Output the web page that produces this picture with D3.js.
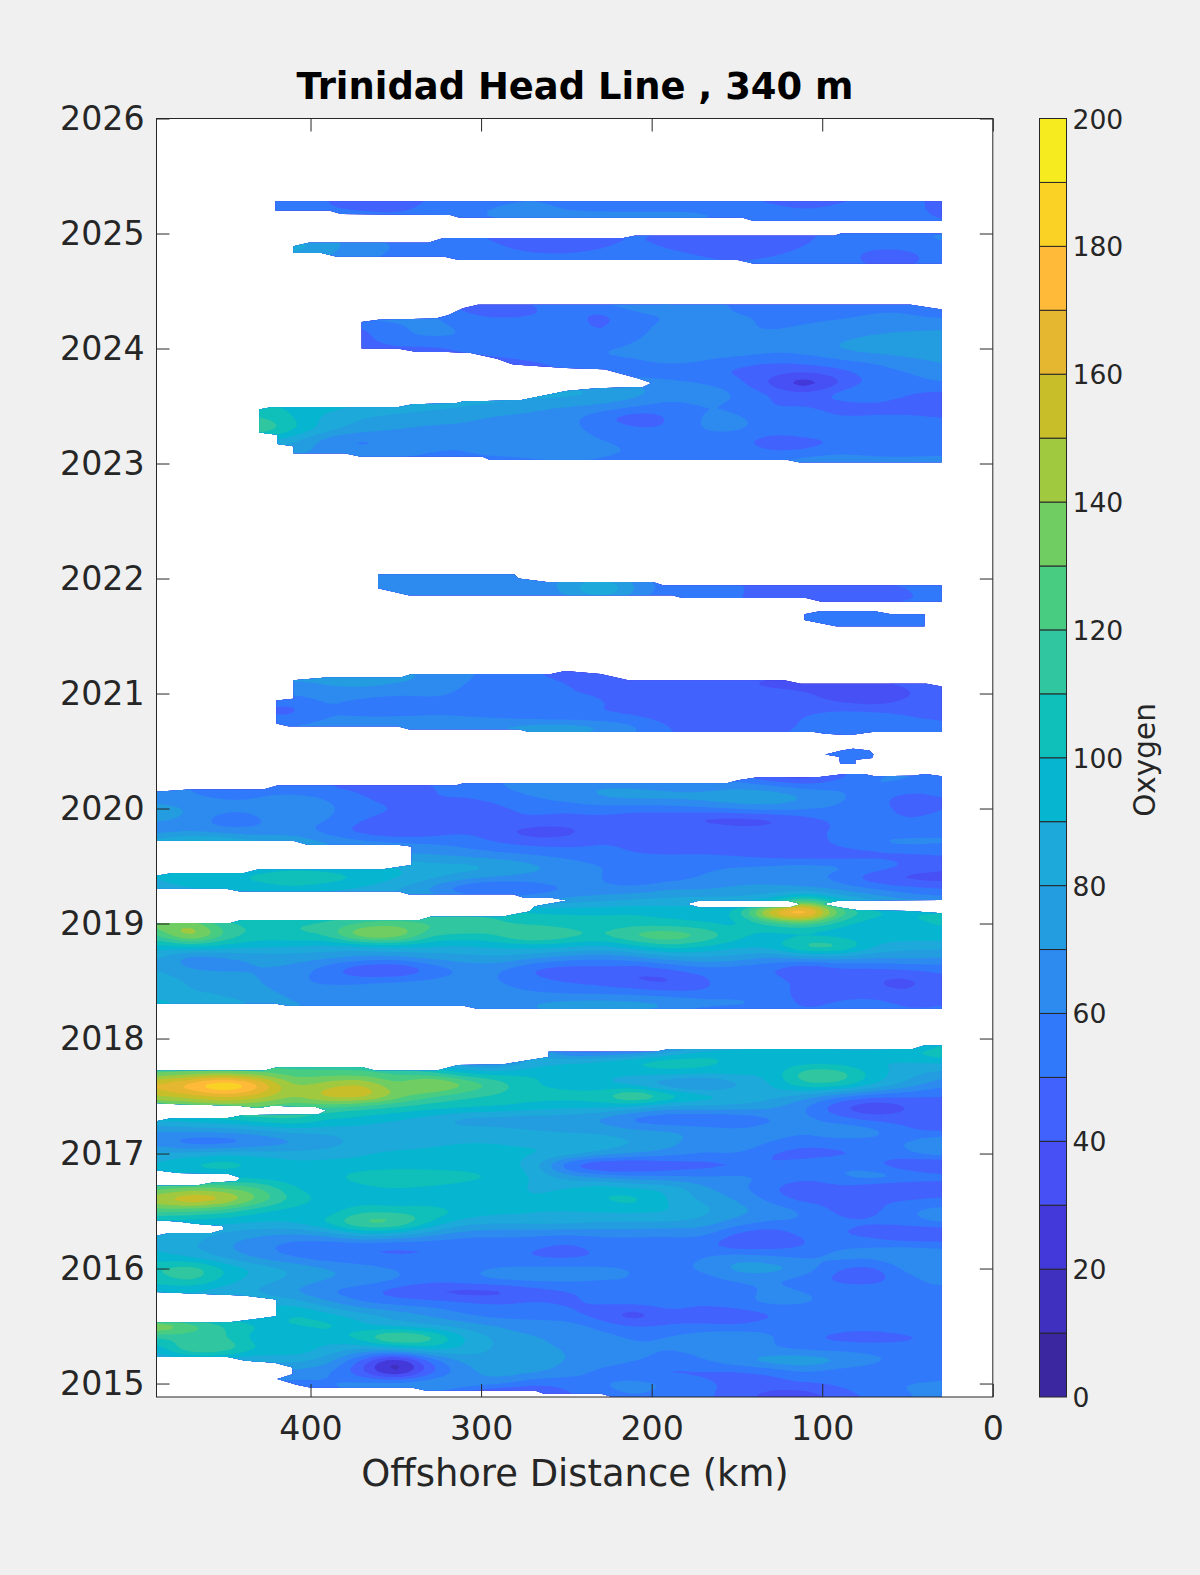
<!DOCTYPE html>
<html><head><meta charset="utf-8">
<script src="https://cdn.jsdelivr.net/npm/d3@7"></script>
<style>
html,body{margin:0;padding:0;background:#f0f0f0}
svg{display:block}
text{font-family:"DejaVu Sans",sans-serif;fill:#262626}
</style></head><body><svg id="c" width="1200" height="1575"></svg>
<script>
const distanceKm=[490,470,450,430,410,390,370,350,330,310,290,270,250,230,210,190,170,150,130,110,90,70,50,30];
const years=[2025.3,2025.2,2025.1,2025.0,2024.9,2024.8,2024.7,
2024.4,2024.3,2024.2,2024.1,2024.0,2023.9,2023.8,2023.7,2023.6,2023.5,2023.4,2023.3,2023.2,2023.1,2023.0,
2022.0,2021.9,2021.8,2021.7,2021.6,
2021.2,2021.1,2021.0,2020.9,2020.8,2020.7,2020.5,2020.4,
2020.3,2020.2,2020.1,2020.0,2019.9,2019.8,2019.7,2019.6,2019.5,2019.4,2019.3,2019.2,2019.1,2019.0,2018.9,2018.8,2018.7,2018.6,2018.5,2018.4,2018.3,2018.2,
2017.9,2017.8,2017.7,2017.6,2017.5,2017.4,2017.3,2017.2,2017.1,2017.0,2016.9,2016.8,2016.7,2016.6,2016.5,2016.4,2016.3,2016.2,2016.1,2016.0,2015.9,2015.8,2015.7,2015.6,2015.5,2015.4,2015.3,2015.2,2015.1,2015.0,2014.9];
const oxygen=[
[55,55,55,55,52,50,48,47,50,54,58,60,58,56,56,56,54,52,48,47,48,52,52,48],
[55,55,55,55,53,50,49,48,52,58,62,62,60,60,60,60,60,55,52,50,52,56,54,46],
[60,60,60,60,60,58,56,55,55,58,60,62,62,62,62,62,62,60,56,54,54,56,56,50],
[80,80,80,80,78,72,60,56,52,50,48,48,46,48,50,48,44,44,44,48,52,56,60,62],
[88,88,88,88,86,75,64,60,56,54,50,46,44,48,52,48,44,42,44,50,54,52,54,60],
[80,80,80,80,78,70,62,58,56,56,54,52,52,54,56,54,50,48,50,54,54,46,44,56],
[70,70,70,70,70,65,60,58,56,56,56,56,56,56,56,56,54,52,54,56,54,50,50,56],
[50,50,50,50,50,50,50,50,48,46,46,50,55,60,72,78,66,58,50,50,54,58,58,48],
[72,72,72,72,72,72,70,68,62,50,46,48,54,46,56,60,62,60,60,58,58,60,60,56],
[60,60,60,60,60,52,48,58,64,58,56,56,56,46,58,62,64,62,58,60,62,64,66,66],
[50,50,50,50,50,50,46,58,62,60,60,60,58,50,60,62,66,60,62,64,68,72,74,76],
[50,50,50,50,48,48,46,48,46,52,58,60,60,60,62,62,66,72,64,66,72,76,80,82],
[48,48,48,48,48,48,46,46,46,46,46,50,54,60,60,66,62,54,52,54,60,62,66,72],
[60,60,60,60,60,60,60,56,50,46,46,46,48,48,50,52,50,48,44,42,46,56,60,66],
[90,90,90,90,90,90,90,88,86,84,80,78,76,74,70,64,60,54,36,16,38,54,56,60],
[100,100,100,98,96,94,92,92,92,90,88,86,84,82,74,66,68,60,50,44,56,66,50,46],
[98,98,98,100,98,94,90,88,84,80,76,72,70,68,62,54,60,58,48,50,44,44,40,42],
[110,110,110,112,100,86,80,76,74,72,68,68,64,52,40,50,62,62,56,58,50,52,54,50],
[116,116,116,124,104,84,76,70,68,68,66,72,62,58,52,50,62,64,54,58,58,58,56,54],
[90,90,90,90,82,62,54,64,62,60,62,60,64,60,54,56,54,52,44,46,50,54,56,54],
[80,80,80,80,72,68,64,62,60,60,64,66,72,68,58,56,54,56,50,50,56,52,52,54],
[70,70,70,70,66,62,60,58,58,56,54,54,56,52,48,52,54,56,58,72,76,72,70,72],
[70,70,70,70,70,72,74,66,64,64,62,64,72,84,66,54,50,50,48,48,50,52,52,50],
[70,70,70,70,70,68,66,62,60,60,60,64,72,98,70,54,50,52,46,46,44,46,50,52],
[60,60,60,60,60,60,60,60,60,60,60,62,64,72,60,50,50,50,48,44,44,46,50,50],
[56,56,56,56,56,56,56,56,56,56,56,56,56,56,56,56,56,56,56,56,56,56,56,56],
[55,55,55,55,55,55,55,55,55,55,55,55,55,55,55,55,55,55,55,55,55,55,55,55],
[72,72,72,72,72,72,74,72,70,62,58,50,44,44,50,50,50,48,46,44,44,46,50,52],
[74,74,74,72,70,72,74,72,68,60,56,54,50,48,46,44,44,42,36,34,36,40,42,50],
[66,66,66,64,62,66,66,62,62,58,56,52,50,50,48,48,36,42,44,42,34,30,38,46],
[56,56,56,52,46,62,52,50,56,60,58,54,52,50,50,50,48,46,44,44,42,38,44,46],
[56,56,56,50,48,60,60,60,60,58,56,52,50,50,48,46,46,44,46,50,58,58,50,50],
[62,62,62,62,64,66,68,70,72,72,74,80,82,76,64,50,38,36,44,52,62,58,52,50],
[55,55,55,55,55,55,55,55,55,55,55,55,55,55,55,55,55,55,55,55,55,55,55,55],
[55,55,55,55,55,55,55,55,55,55,55,55,55,55,55,55,55,55,55,55,55,55,55,55],
[60,60,60,60,60,60,60,60,60,60,60,60,60,60,60,60,60,50,30,26,44,60,62,58],
[62,60,56,56,52,46,46,34,50,54,60,64,68,70,68,64,62,66,62,54,58,62,58,56],
[64,60,58,60,64,60,52,42,50,52,56,60,66,72,76,76,76,82,80,72,62,54,44,50],
[76,70,64,62,66,62,56,50,50,34,48,52,52,56,52,54,58,62,66,62,58,56,44,50],
[72,68,50,60,62,62,50,44,40,46,48,50,46,46,44,42,34,32,34,44,52,56,50,54],
[62,66,64,60,66,54,44,38,42,50,42,32,34,46,50,46,52,46,46,50,50,54,54,58],
[90,106,96,88,80,72,66,62,60,56,50,46,46,50,48,36,46,42,40,40,56,62,66,62],
[70,70,70,70,70,70,70,70,70,66,62,60,56,54,50,50,50,48,44,40,40,44,46,50],
[92,92,92,92,92,92,92,92,84,86,82,74,66,60,60,62,58,60,62,66,64,60,50,44],
[90,98,100,104,114,108,100,92,84,76,70,66,70,60,50,54,60,66,64,62,56,40,34,34],
[84,90,90,94,96,92,88,80,66,46,40,50,58,62,62,70,68,72,74,70,66,60,54,50],
[80,80,80,80,80,80,80,80,80,76,70,70,74,78,82,84,86,84,88,124,94,80,70,66],
[100,100,100,100,100,100,100,100,100,104,106,102,100,100,100,96,94,100,180,206,130,104,102,104],
[135,142,110,108,110,112,122,128,122,124,112,106,104,102,104,102,100,94,110,122,102,92,96,102],
[118,158,118,106,110,112,150,148,112,108,112,130,118,110,128,134,124,104,96,92,92,94,96,96],
[94,100,96,92,90,86,86,92,90,88,92,94,92,88,96,108,100,92,94,124,122,90,84,84],
[82,58,66,72,74,72,66,66,72,76,78,72,64,60,66,74,78,76,66,72,72,70,72,70],
[80,70,68,70,68,52,38,32,50,62,62,46,42,46,40,48,56,52,50,34,46,46,50,52],
[88,78,76,70,62,56,56,60,62,64,60,54,48,46,38,34,46,60,56,46,48,40,34,48],
[84,80,78,74,66,66,70,72,72,70,64,60,58,56,56,52,50,54,54,46,46,44,40,48],
[96,90,84,80,70,70,66,66,64,66,68,72,76,78,76,74,68,66,58,46,52,56,48,50],
[80,80,78,74,70,66,60,52,50,56,60,66,68,70,68,60,42,42,52,54,56,54,52,52],
[90,90,90,90,90,90,90,90,90,90,90,90,46,44,50,70,92,98,100,100,96,96,100,118],
[110,110,110,110,110,110,110,100,84,62,58,80,90,96,105,112,106,98,92,92,92,88,90,92],
[128,132,134,130,124,124,122,118,112,100,96,100,100,92,92,96,94,94,90,122,120,96,84,76],
[165,182,206,178,136,146,156,128,156,135,118,100,95,90,82,64,56,76,90,112,112,92,78,62],
[150,158,165,158,140,160,162,140,120,112,108,104,106,108,136,114,100,92,84,74,60,52,50,48],
[120,122,130,126,118,118,112,106,104,102,100,96,92,92,84,74,76,76,72,60,38,26,38,50],
[92,96,100,108,114,100,96,92,84,74,72,72,72,66,52,46,46,48,58,64,54,46,46,50],
[70,74,74,78,84,84,86,80,80,84,84,80,78,78,72,72,68,62,66,62,70,66,50,44],
[62,48,48,58,66,72,84,86,88,90,90,88,88,86,82,76,62,70,60,54,56,56,60,76],
[84,84,90,86,84,86,90,92,92,94,92,92,90,80,72,66,60,62,48,44,46,52,60,68],
[90,104,108,100,94,94,92,92,94,96,94,88,44,30,32,40,44,46,50,56,60,52,36,34],
[90,90,90,92,92,96,108,114,108,104,100,90,76,66,62,60,60,64,60,56,60,70,64,56],
[125,135,132,124,100,92,96,100,98,96,94,88,90,100,90,90,72,62,52,36,48,38,34,42],
[150,168,158,130,108,96,94,92,90,90,94,90,94,100,108,88,78,70,56,46,46,48,50,52],
[125,120,112,100,94,92,108,105,110,98,94,92,90,92,92,92,84,74,68,60,46,46,60,66],
[92,92,92,90,92,104,130,130,100,84,82,84,84,80,80,80,76,66,58,60,52,52,56,64],
[88,88,76,72,68,74,90,84,74,64,62,62,60,62,62,60,64,46,40,54,50,44,34,32],
[90,80,70,62,54,50,50,48,50,50,54,52,46,54,54,56,52,40,44,48,58,60,60,60],
[92,88,76,66,58,52,50,50,50,52,52,48,46,50,52,54,60,68,62,58,66,64,70,62],
[110,122,100,88,80,72,66,60,56,58,62,64,64,64,60,58,62,76,78,68,48,44,66,62],
[104,116,96,84,78,70,68,62,54,58,64,64,64,60,60,52,54,62,60,54,46,42,58,62],
[90,88,82,78,68,58,52,42,36,32,32,42,48,54,60,60,50,54,64,60,58,60,60,58],
[90,90,90,90,88,72,60,56,56,52,50,52,48,52,54,56,52,58,64,62,56,50,56,58],
[90,90,90,90,104,94,84,76,68,60,54,58,52,44,28,48,42,40,48,52,56,58,56,56],
[152,130,110,100,100,106,92,84,80,76,70,62,68,56,50,50,52,50,56,58,54,54,58,60],
[108,112,112,92,88,92,108,138,122,90,78,72,66,66,58,62,68,72,62,50,46,44,46,52],
[90,128,122,98,100,88,78,84,96,88,78,72,70,64,62,60,62,60,60,56,56,56,56,56],
[80,80,80,80,84,76,46,8,50,74,76,76,70,66,62,56,60,70,80,82,74,64,56,52],
[70,70,70,70,66,62,40,6,46,66,76,74,66,56,50,46,48,46,50,60,52,52,50,56],
[60,60,60,60,56,60,66,70,72,68,66,50,52,60,66,60,52,48,46,50,52,56,62,62],
[50,50,50,50,50,54,62,62,60,44,26,38,48,56,60,56,52,46,34,32,46,52,60,62]
];
const levels=d3.range(0,200,10);
const levelColors=["#3b28a0","#4030bf","#4338d9","#4650f5","#4262fe","#3179fb","#2d8bf0","#239de0","#1da9d9","#06b5cf","#0fbfba","#2fc6a0","#48cc82","#6fcd62","#a1c93f","#c8be2a","#e5b62f","#feba38","#fad226","#f5eb1f"];
const xTicks=[400,300,200,100,0];
const yTicks=d3.range(2015,2027);
const barTicks=d3.range(0,201,20);
const coverageRings=[
[[420.6,2025.28],[30,2025.28],[30,2025.11],[140.6,2025.11],[147,2025.14],[313,2025.14],[318,2025.16],[382,2025.17],[389,2025.20],[420.6,2025.20]],
[[410,2024.89],[401,2024.92],[331,2024.92],[322,2024.96],[216.5,2024.96],[210,2024.98],[93,2024.98],[89,2025.0],[30,2025.0],[30,2024.74],[140.6,2024.74],[149.4,2024.77],[313,2024.77],[322,2024.80],[385,2024.80],[393.5,2024.83],[410,2024.83]],
[[370,2024.23],[360,2024.25],[326.5,2024.26],[319.4,2024.29],[310.6,2024.35],[301.8,2024.38],[48.2,2024.38],[30,2024.34],[30,2023.01],[113.5,2023.01],[120,2023.03],[294.7,2023.03],[299.4,2023.06],[371,2023.06],[380,2023.09],[410,2023.09],[410,2023.15],[419.4,2023.17],[419.4,2023.25],[430,2023.27],[430,2023.47],[423,2023.49],[349,2023.49],[340,2023.515],[315,2023.525],[310.6,2023.54],[277,2023.55],[250,2023.63],[232,2023.655],[205,2023.665],[200,2023.70],[207.6,2023.74],[227.6,2023.82],[250,2023.83],[281,2023.86],[290.6,2023.91],[306,2023.96],[319.4,2023.97],[337.6,2023.97],[349,2024.0],[370,2024.0]],
[[360.4,2022.035],[280.3,2022.035],[278.2,2022.0],[261.8,2021.97],[199.4,2021.97],[193,2021.94],[30,2021.94],[30,2021.80],[101,2021.80],[109.4,2021.83],[181.8,2021.83],[188,2021.855],[342.4,2021.855],[360.4,2021.915]],
[[110.4,2021.69],[101.4,2021.715],[69.4,2021.715],[59.6,2021.69],[40,2021.69],[40,2021.585],[91.8,2021.585],[110.4,2021.64]],
[[410,2021.115],[390.6,2021.14],[347,2021.14],[340.7,2021.17],[258.8,2021.17],[250.8,2021.195],[230,2021.17],[213.8,2021.115],[122.4,2021.115],[112.6,2021.085],[38.8,2021.085],[30,2021.06],[30,2020.665],[70.8,2020.665],[83.7,2020.64],[98.2,2020.65],[104.7,2020.665],[271.8,2020.665],[278,2020.69],[342.4,2020.69],[349,2020.715],[413,2020.715],[420,2020.74],[420,2020.94],[410,2020.955]],
[[98.2,2020.47],[88.5,2020.505],[82,2020.52],[72.4,2020.505],[70,2020.47],[70.8,2020.44],[80.6,2020.425],[80.6,2020.39],[89.5,2020.39],[90.1,2020.45]],
[[490.3,2020.145],[470.9,2020.165],[427.6,2020.165],[419.4,2020.20],[315,2020.20],[310.2,2020.22],[155.9,2020.22],[149.4,2020.245],[136.7,2020.275],[101.4,2020.275],[87,2020.30],[75.6,2020.30],[69.4,2020.28],[46.8,2020.285],[39.7,2020.30],[30,2020.28],[30,2019.205],[90,2019.20],[99.8,2019.17],[90,2019.14],[78.8,2019.115],[50,2019.11],[30,2019.09],[30,2018.26],[302.2,2018.26],[310.2,2018.285],[413,2018.285],[421.2,2018.305],[490.3,2018.305],[490.3,2019.005],[446.8,2019.005],[440.4,2019.03],[335.9,2019.03],[329.5,2019.06],[287.6,2019.06],[271.8,2019.105],[268.4,2019.15],[249.2,2019.20],[258.8,2019.225],[274.9,2019.225],[281.3,2019.255],[342.4,2019.255],[348.8,2019.28],[441.9,2019.28],[450,2019.305],[490.3,2019.305],[490.3,2019.415],[480.6,2019.44],[438.8,2019.44],[430.7,2019.47],[358.4,2019.47],[340.7,2019.51],[340.7,2019.67],[348.8,2019.685],[401.8,2019.685],[410,2019.72],[490.3,2019.72]],
[[490.3,2017.72],[427.5,2017.72],[419.4,2017.75],[369.6,2017.75],[361.8,2017.72],[326.3,2017.72],[313.5,2017.77],[287.6,2017.775],[260.4,2017.84],[260.4,2017.885],[197.8,2017.885],[189.7,2017.91],[46.8,2017.91],[40.3,2017.94],[30,2017.94],[30,2014.886],[223.5,2014.886],[230,2014.913],[263.6,2014.913],[268.4,2014.94],[332.7,2014.94],[340.7,2014.965],[400.2,2014.965],[408.2,2014.99],[419.4,2015.04],[410.5,2015.08],[410.5,2015.14],[421,2015.18],[438.8,2015.20],[448.4,2015.23],[490.3,2015.23],[490.3,2015.53],[448.4,2015.53],[420,2015.585],[420,2015.73],[438.8,2015.765],[454.8,2015.775],[490.3,2015.795],[490.3,2016.285],[482.5,2016.31],[458,2016.31],[450.6,2016.34],[451.6,2016.37],[467.6,2016.39],[477.4,2016.41],[490.3,2016.42],[490.3,2016.72],[467.6,2016.72],[458,2016.745],[443.5,2016.76],[441,2016.79],[448.4,2016.825],[477.3,2016.83],[490.3,2016.855],[490.3,2017.28],[482.5,2017.305],[448.4,2017.31],[438.8,2017.335],[395.4,2017.34],[390.6,2017.375],[397,2017.405],[422.6,2017.415],[430.7,2017.395],[442,2017.415],[480.6,2017.43],[490.3,2017.44]]
];
const gapRings=[
[[179.4,2019.17],[172,2019.20],[120.6,2019.20],[112.6,2019.17],[119,2019.14],[172,2019.14]]
];

const plotL=156.5,plotR=992.8,plotT=118.5,plotB=1397;
const svg=d3.select("#c");
const x=d3.scaleLinear().domain([490.3,0]).range([plotL,plotR]);
const y=d3.scaleLinear().domain([2014.883,2026]).range([plotB,plotT]);
const ink="#262626";

svg.append("rect").attr("x",plotL).attr("y",plotT).attr("width",plotR-plotL).attr("height",plotB-plotT).attr("fill","#fff");

const ringLine=d3.line().x(d=>x(d[0])).y(d=>y(d[1]));
const clipD=coverageRings.concat(gapRings).map(r=>ringLine(r)+"Z").join("");
svg.append("clipPath").attr("id","cov").append("path").attr("d",clipD).attr("clip-rule","evenodd");

// edge-replicated grid, resampled and softened for drawing only
const padKm=[510].concat(distanceKm,[10]);
const padYears=[2025.4].concat(years,[2014.8]);
const padRows=[oxygen[0]].concat(oxygen,[oxygen[oxygen.length-1]]).map(r=>[r[0]].concat(r,[r[r.length-1]]));
const n=padKm.length,m=padYears.length,k=4;
const W2=(n-1)*k+1,H2=(m-1)*k+1;
const fine=new Float64Array(W2*H2);
for(let j=0;j<H2;j++){const j0=Math.min(Math.floor(j/k),m-2),fy=j/k-j0;
 for(let i=0;i<W2;i++){const i0=Math.min(Math.floor(i/k),n-2),fx=i/k-i0;
  fine[j*W2+i]=d3.interpolateNumber(
    d3.interpolateNumber(padRows[j0][i0],padRows[j0][i0+1])(fx),
    d3.interpolateNumber(padRows[j0+1][i0],padRows[j0+1][i0+1])(fx))(fy);}}
d3.blur2({data:fine,width:W2,height:H2},1,1);
const kmAt=d3.scaleLinear().domain(d3.range(n)).range(padKm).clamp(true);
const yearAt=d3.scaleLinear().domain(d3.range(m)).range(padYears).clamp(true);
const contours=d3.contours().size([W2,H2]).thresholds(levels).smooth(true)(fine);
const curve=d3.line().curve(d3.curveCatmullRomClosed.alpha(0.5));
const g=svg.append("g").attr("clip-path","url(#cov)");
contours.forEach((c,i)=>{
  let dStr="";
  c.coordinates.forEach(poly=>poly.forEach(ring=>{
    const pts=ring.slice(0,-1).map(p=>[x(kmAt((p[0]-0.5)/k)),y(yearAt((p[1]-0.5)/k))]);
    dStr+=curve(pts);
  }));
  g.append("path").attr("d",dStr).attr("fill",levelColors[i]).attr("fill-rule","evenodd");
});

// axes
const fs=33.2;
function style(sel){sel.selectAll("path.domain").remove();sel.selectAll("line").attr("stroke",ink).attr("stroke-width",1);}
const axB=d3.axisBottom(x).tickValues(xTicks).tickSize(-13).tickFormat(d3.format("d"));
const gb=svg.append("g").attr("transform",`translate(0,${plotB})`).call(axB);style(gb);
gb.selectAll("text").attr("font-size",fs).attr("dy","0.71em").attr("y",19);
const axT=d3.axisTop(x).tickValues(xTicks).tickSize(-13).tickFormat("");
const gt=svg.append("g").attr("transform",`translate(0,${plotT})`).call(axT);style(gt);
const axL=d3.axisLeft(y).tickValues(yTicks).tickSize(-13).tickFormat(d3.format("d"));
const gl=svg.append("g").attr("transform",`translate(${plotL},0)`).call(axL);style(gl);
gl.selectAll("text").attr("font-size",fs).attr("x",-12);
const axR=d3.axisRight(y).tickValues(yTicks).tickSize(-13).tickFormat("");
const gr=svg.append("g").attr("transform",`translate(${plotR},0)`).call(axR);style(gr);
svg.append("rect").attr("x",plotL).attr("y",plotT).attr("width",plotR-plotL).attr("height",plotB-plotT).attr("fill","none").attr("stroke",ink).attr("stroke-width",1);

// titles
svg.append("text").attr("x",575).attr("y",99).attr("text-anchor","middle").attr("font-size",36.9).attr("font-weight","bold").style("fill","#000").text("Trinidad Head Line , 340 m");
svg.append("text").attr("x",575).attr("y",1486).attr("text-anchor","middle").attr("font-size",36.9).text("Offshore Distance (km)");

// colorbar
const cbL=1039.5,cbR=1066.5;
const cy=d3.scaleLinear().domain([0,200]).range([plotB,plotT]);
svg.append("g").selectAll("rect").data(levels).join("rect")
 .attr("x",cbL).attr("width",cbR-cbL).attr("y",d=>cy(d+10)).attr("height",d=>cy(d)-cy(d+10))
 .attr("fill",(d,i)=>levelColors[i]).attr("stroke",ink).attr("stroke-width",1);
const axC=d3.axisRight(cy).tickValues(barTicks).tickSize(0).tickPadding(6).tickFormat(d3.format("d"));
const gc=svg.append("g").attr("transform",`translate(${cbR},1)`).call(axC);style(gc);
gc.selectAll("text").attr("font-size",26.6);
svg.append("text").attr("transform","translate(1155,760) rotate(-90)").attr("text-anchor","middle").attr("font-size",29.5).text("Oxygen");
</script></body></html>
